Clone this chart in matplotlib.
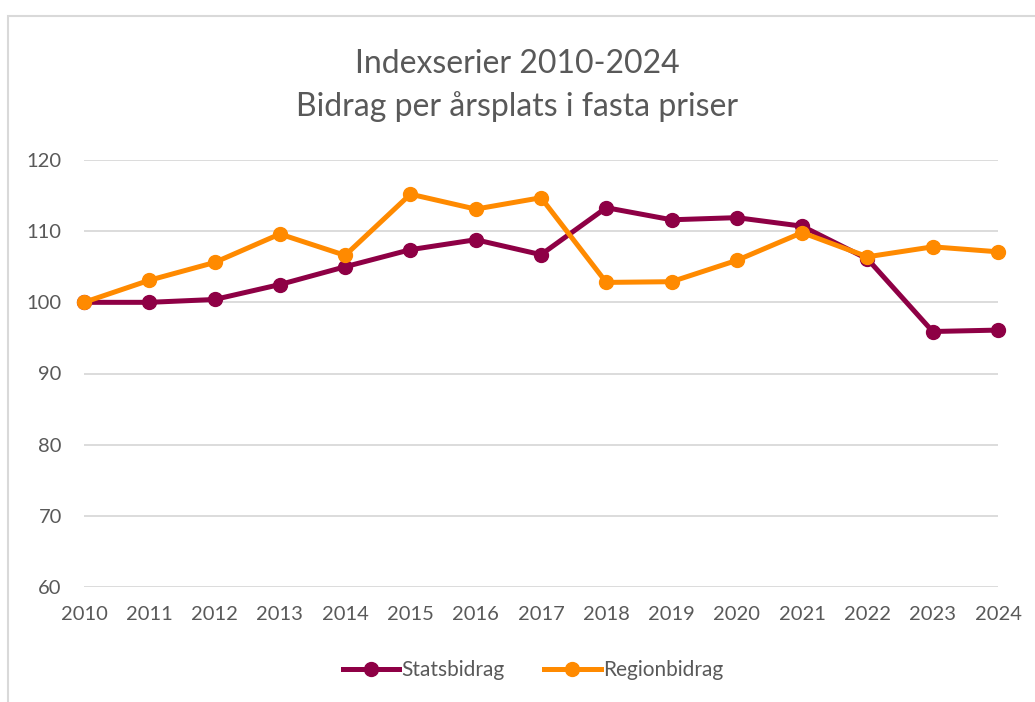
import matplotlib.pyplot as plt
from matplotlib.patches import Rectangle

years = list(range(2010, 2025))
statsbidrag = [100.0, 100.0, 100.4, 102.5, 105.0, 107.4, 108.8, 106.7,
               113.3, 111.6, 111.9, 110.7, 106.1, 95.9, 96.1]
regionbidrag = [100.0, 103.1, 105.6, 109.6, 106.6, 115.2, 113.1, 114.7,
                102.8, 102.9, 105.9, 109.8, 106.4, 107.8, 107.1]
yticks = [60, 70, 80, 90, 100, 110, 120]

text_col = "#595959"
grid_col = "#D9D9D9"

plt.rcParams['font.family'] = ['Lato', 'DejaVu Sans']

fig = plt.figure(figsize=(10.35, 7.02), dpi=100)
# chart frame (light border, runs off right and bottom edges)
fig.patches.append(Rectangle((8 / 1035, -0.1), 1.2, 1 - 16 / 702 + 0.1,
                             transform=fig.transFigure, fill=False,
                             edgecolor="#D9D9D9", linewidth=1.5))

ax = fig.add_axes([84 / 1035, 1 - 587 / 702, (998 - 84) / 1035, (587 - 160) / 702])

ax.plot(years, statsbidrag, color="#8E0045", lw=3.6, marker="o", ms=10,
        label="Statsbidrag", clip_on=False, zorder=3)
ax.plot(years, regionbidrag, color="#FF8A00", lw=3.6, marker="o", ms=10,
        label="Regionbidrag", clip_on=False, zorder=4)

ax.set_xlim(2010, 2024)
ax.set_ylim(60, 120)
ax.set_yticks(yticks)
ax.set_xticks(years)
ax.grid(axis="y", color=grid_col, lw=1.3)
ax.set_axisbelow(True)
for s in ax.spines.values():
    s.set_visible(False)
ax.tick_params(length=0, labelsize=14.5, colors=text_col)
ax.tick_params(axis="y", pad=16)
ax.tick_params(axis="x", pad=14)

fig.text(0.5, 1 - 64 / 702, "Indexserier 2010-2024", ha="center", va="center",
         fontsize=23, color=text_col)
fig.text(0.5, 1 - 107 / 702, "Bidrag per årsplats i fasta priser", ha="center",
         va="center", fontsize=23, color=text_col)

fig.legend(loc="center", bbox_to_anchor=(0.515, 1 - 670 / 702), ncol=2,
           frameon=False, fontsize=15, labelcolor=text_col,
           handlelength=2.7, columnspacing=1.9, handletextpad=0.1)

fig.savefig("out.png", dpi=100)
